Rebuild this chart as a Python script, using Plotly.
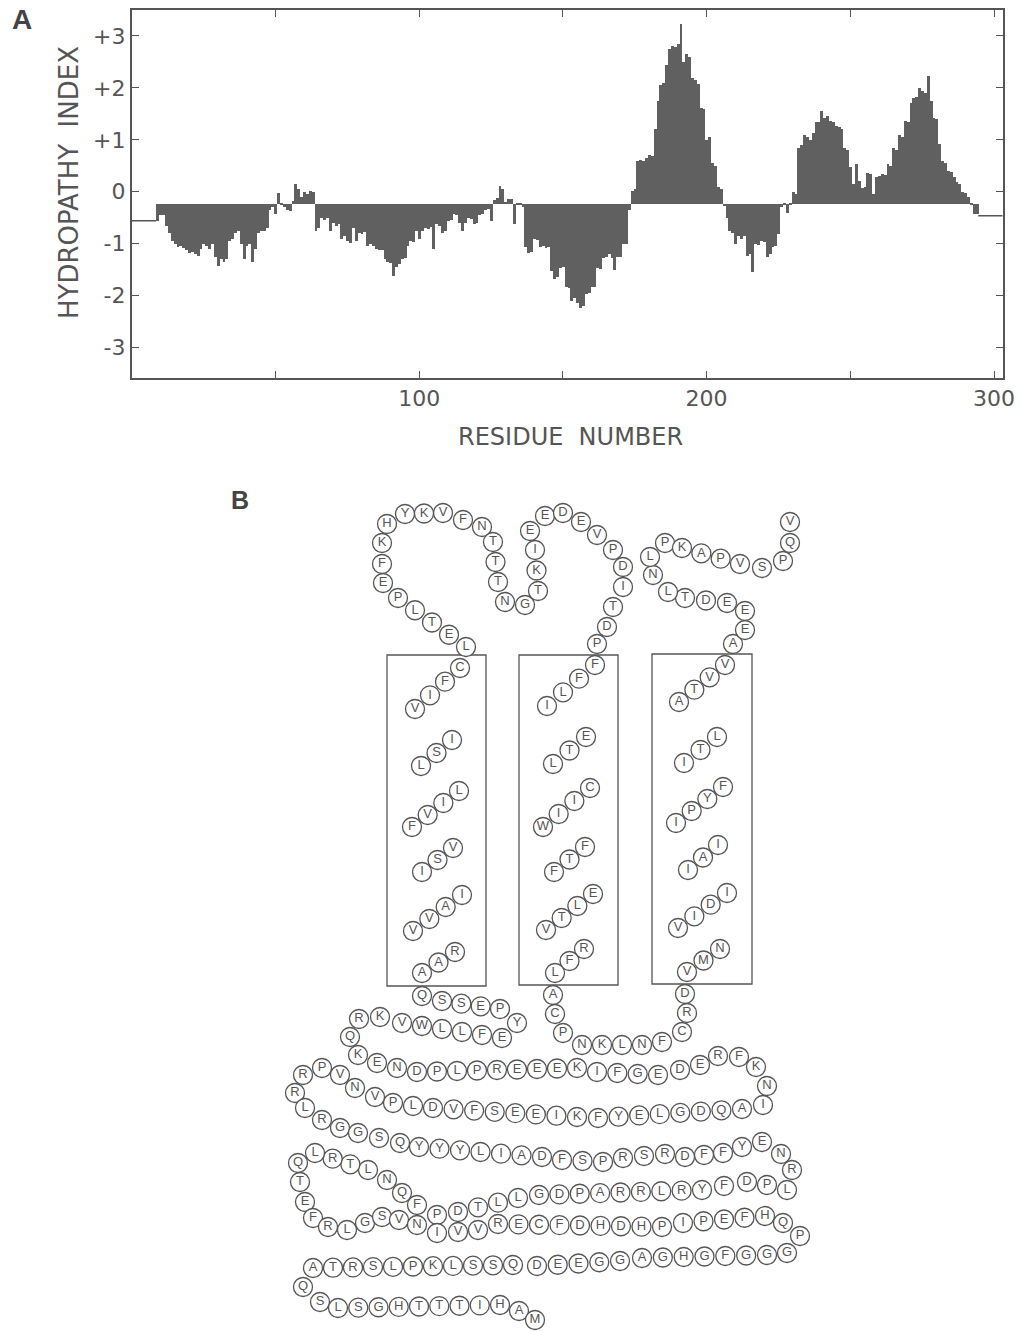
import plotly.graph_objects as go

W, H = 1021, 1332

# ---------------- Panel A data: hydropathy profile ----------------
first_residue = 9
hydropathy = [
    -0.56,
    -0.45, -0.45, -0.65, -0.80, -0.95, -1.00, -1.07, -1.05, -1.08, -1.12,
    -1.18, -1.15, -1.20, -1.23, -1.10, -1.00, -1.05, -1.10, -1.00, -1.25,
    -1.43, -1.30, -1.35, -1.30, -0.95, -0.90, -0.80, -0.75, -1.00, -1.30,
    -1.05, -1.00, -1.36, -1.10, -0.80, -0.75, -0.75, -0.70, -0.35, -0.30,
    -0.43, -0.03, -0.25, -0.30, -0.35, -0.37, -0.17, 0.15, 0.05, -0.10,
    0.00, -0.05, 0.02, 0.00, -0.75, -0.70, -0.50, -0.55, -0.50, -0.75,
    -0.60, -0.65, -0.62, -0.90, -0.85, -0.95, -0.98, -0.70, -0.94, -0.80,
    -0.82, -0.78, -1.04, -1.00, -1.05, -1.10, -1.13, -1.12, -1.30, -1.35,
    -1.38, -1.62, -1.45, -1.40, -1.30, -1.28, -1.05, -0.95, -0.97, -0.75,
    -0.90, -0.75, -0.70, -0.72, -0.68, -1.10, -0.62, -0.65, -0.80, -0.75,
    -0.56, -0.55, -0.43, -0.45, -0.60, -0.75, -0.60, -0.50, -0.52, -0.62,
    -0.60, -0.45, -0.42, -0.35, -0.33, -0.56, -0.15, -0.12, 0.12, 0.05,
    -0.20, -0.13, -0.13, -0.62, -0.25, -0.25, -0.30, -1.07, -1.17, -1.15,
    -0.90, -0.92, -1.07, -1.05, -1.08, -1.07, -1.52, -1.68, -1.65, -1.46,
    -1.45, -1.84, -1.86, -2.10, -2.05, -2.15, -2.23, -2.20, -1.97, -1.95,
    -1.84, -1.84, -1.46, -1.48, -1.27, -1.25, -1.20, -1.28, -1.50, -1.26,
    -1.25, -1.00, -1.00, -0.35, 0.02, 0.05, 0.60, 0.62, 0.60, 0.65,
    0.70, 0.68, 1.20, 1.75, 2.05, 2.10, 2.45, 2.75, 2.80, 2.78,
    2.85, 3.23, 2.50, 2.65, 2.60, 2.20, 2.15, 2.07, 1.62, 1.60,
    1.00, 1.05, 0.55, 0.50, 0.10, 0.05, -0.27, -0.50, -0.75, -0.80,
    -1.00, -0.85, -0.90, -0.85, -1.23, -1.20, -1.55, -1.00, -1.02, -0.95,
    -0.97, -1.26, -1.20, -1.07, -1.05, -0.82, -0.30, -0.25, -0.40, -0.25,
    0.00, -0.05, 0.85, 0.90, 1.10, 1.05, 1.00, 1.14, 1.35, 1.35,
    1.55, 1.42, 1.45, 1.37, 1.35, 1.27, 1.25, 1.20, 0.85, 0.80,
    0.47, 0.15, 0.53, 0.20, 0.08, 0.10, 0.37, 0.35, -0.05, 0.28,
    0.30, 0.34, 0.32, 0.53, 0.50, 0.85, 0.80, 1.10, 1.05, 1.37,
    1.35, 1.70, 1.80, 1.82, 2.00, 1.95, 1.90, 2.23, 1.75, 1.43,
    1.40, 0.92, 0.60, 0.55, 0.40, 0.38, 0.28, 0.18, 0.15, 0.00,
    -0.02, -0.10, -0.25, -0.43, -0.43,
]
residues = list(range(first_residue, first_residue + len(hydropathy)))
baseline = -0.23
lead_x, lead_y = [0, 8.5], [-0.56, -0.56]
tail_x, tail_y = [294.5, 303], [-0.46, -0.46]
y_tickvals = [3, 2, 1, 0, -1, -2, -3]
y_ticktext = ["+3", "+2", "+1", "0", "-1", "-2", "-3"]
x_tickvals = [50, 100, 150, 200, 250, 300]
x_ticktext = ["", "100", "", "200", "", "300"]

# ---------------- Panel B data: topology (letters + layout anchors) ----------------
segments = [
    # helix 1
    ("CFIV", (460, 668), (415, 709)), ("ISL", (452, 740), (421, 766)),
    ("LIVF", (459, 791), (412, 827)), ("VSI", (453, 848), (422, 872)),
    ("IAVV", (462, 895), (413, 931)), ("RAA", (455, 952), (422, 973)),
    # helix 2
    ("FFLI", (595, 665), (547, 706)), ("ETL", (586, 737), (553, 764)),
    ("CIIW", (590, 788), (543, 827)), ("FTF", (585, 847), (554, 872)),
    ("ELTV", (593, 894), (546, 930)), ("RFL", (584, 949), (555, 973)),
    # helix 3
    ("VVTA", (725, 665), (679, 702)), ("LTI", (717, 737), (684, 763)),
    ("FYPI", (723, 787), (676, 823)), ("IAI", (718, 845), (688, 870)),
    ("IDIV", (727, 893), (678, 928)), ("NMV", (720, 949), (687, 972)),
    # top-left loops
    ("LETLP", (466, 647), (398, 598)), ("E", (383, 583), (383, 583)),
    ("FK", (382, 564), (382, 543)), ("H", (387, 524), (387, 524)),
    ("YKV", (405, 514), (443, 513)), ("FN", (463, 520), (482, 527)),
    ("TTT", (493, 542), (498, 582)), ("NG", (505, 602), (525, 605)),
    ("TKI", (538, 591), (535, 550)), ("E", (530, 531), (530, 531)),
    ("ED", (545, 516), (563, 513)), ("EV", (581, 522), (597, 535)),
    ("PD", (613, 550), (623, 567)), ("IT", (623, 587), (613, 607)),
    ("DP", (607, 627), (597, 644)),
    # top-right tail
    ("A", (733, 644), (733, 644)), ("EE", (745, 630), (745, 611)),
    ("EDT", (727, 603), (685, 598)), ("L", (668, 592), (668, 592)),
    ("NL", (653, 575), (650, 557)), ("P", (665, 543), (665, 543)),
    ("KAPV", (682, 548), (740, 564)), ("SP", (762, 568), (783, 561)),
    ("QV", (790, 543), (790, 522)),
    # loop between helix 2 and 3
    ("AC", (553, 995), (555, 1014)), ("P", (563, 1033), (563, 1033)),
    ("NKLN", (582, 1045), (642, 1045)), ("F", (662, 1042), (662, 1042)),
    ("C", (682, 1032), (682, 1032)), ("RD", (687, 1013), (685, 994)),
    # cytoplasmic domain
    ("Q", (422, 996), (422, 996)), ("SSEP", (442, 1001), (500, 1009)),
    ("Y", (517, 1023), (517, 1023)), ("EFLLWV", (502, 1038), (402, 1023)),
    ("K", (380, 1017), (380, 1017)), ("R", (359, 1019), (359, 1019)),
    ("Q", (350, 1037), (350, 1037)), ("K", (358, 1055), (358, 1055)),
    ("EN", (377, 1063), (397, 1068)), ("DPLPREEEK", (417, 1072), (577, 1068)),
    ("IFGE", (597, 1072), (658, 1075)), ("DE", (680, 1070), (700, 1065)),
    ("RF", (718, 1056), (739, 1057)), ("K", (756, 1067), (756, 1067)),
    ("N", (767, 1086), (767, 1086)), ("I", (763, 1105), (763, 1105)),
    ("AQDGLEYF", (742, 1109), (598, 1118)), ("KIEESFVD", (577, 1117), (433, 1108)),
    ("LP", (413, 1106), (393, 1103)), ("VN", (375, 1097), (355, 1088)),
    ("V", (340, 1075), (340, 1075)), ("P", (322, 1068), (322, 1068)),
    ("R", (303, 1075), (303, 1075)), ("R", (295, 1093), (295, 1093)),
    ("L", (305, 1108), (305, 1108)), ("RG", (322, 1120), (340, 1128)),
    ("GSQ", (358, 1133), (400, 1143)), ("YYYLIAD", (419, 1147), (542, 1157)),
    ("FSP", (562, 1160), (603, 1162)), ("RSR", (623, 1158), (665, 1154)),
    ("DFF", (685, 1157), (723, 1153)), ("YE", (742, 1147), (762, 1142)),
    ("N", (781, 1154), (781, 1154)), ("R", (792, 1170), (792, 1170)),
    ("L", (787, 1190), (787, 1190)), ("PD", (767, 1185), (747, 1182)),
    ("F", (724, 1186), (724, 1186)), ("YRLRRAPDG", (702, 1190), (539, 1195)),
    ("LLTD", (518, 1198), (458, 1212)), ("P", (437, 1215), (437, 1215)),
    ("F", (417, 1205), (417, 1205)), ("Q", (402, 1193), (402, 1193)),
    ("N", (387, 1180), (387, 1180)), ("LTRL", (368, 1170), (315, 1153)),
    ("Q", (298, 1163), (298, 1163)), ("T", (300, 1182), (300, 1182)),
    ("E", (305, 1202), (305, 1202)), ("F", (313, 1218), (313, 1218)),
    ("RL", (328, 1227), (347, 1230)), ("G", (365, 1223), (365, 1223)),
    ("S", (382, 1217), (382, 1217)), ("V", (399, 1220), (399, 1220)),
    ("NI", (417, 1225), (437, 1233)), ("VV", (458, 1232), (478, 1230)),
    ("RECFDHDHP", (498, 1224), (662, 1227)), ("IPEFH", (683, 1223), (765, 1216)),
    ("Q", (783, 1223), (783, 1223)), ("P", (800, 1236), (800, 1236)),
    ("G", (787, 1253), (787, 1253)), ("GGFGHGA", (767, 1255), (642, 1258)),
    ("GGEED", (620, 1261), (537, 1266)), ("QSSLKPLSRTA", (513, 1265), (313, 1268)),
    ("Q", (303, 1287), (303, 1287)), ("S", (320, 1302), (320, 1302)),
    ("LSGHTTTIH", (338, 1308), (500, 1305)), ("A", (519, 1311), (519, 1311)),
    ("M", (535, 1320), (535, 1320)),
]
membrane_boxes = [(387, 655, 486, 986), (519, 655, 618, 985), (652, 654, 752, 984)]

# ---------------- build figure ----------------
ink = "#555555"
label_font = "DejaVu Sans, Liberation Sans, sans-serif"
bead_font = "Liberation Sans, Arial, sans-serif"

fig = go.Figure()

fig.add_trace(go.Bar(
    x=residues, y=[v - baseline for v in hydropathy], base=baseline,
    width=1.0, marker=dict(color="#606060", line=dict(width=0)),
    xaxis="x", yaxis="y", showlegend=False, hoverinfo="skip"))
for lx, ly in ((lead_x, lead_y), (tail_x, tail_y)):
    fig.add_trace(go.Scatter(x=lx, y=ly, mode="lines",
                             line=dict(color=ink, width=1.5),
                             xaxis="x", yaxis="y", showlegend=False, hoverinfo="skip"))

bx, by, bt = [], [], []
for letters, (x0, y0), (x1, y1) in segments:
    n = len(letters)
    for i, ch in enumerate(letters):
        t = i / (n - 1) if n > 1 else 0.0
        bx.append(x0 + (x1 - x0) * t)
        by.append(y0 + (y1 - y0) * t)
        bt.append(ch)

fig.add_trace(go.Scatter(
    x=bx, y=by, text=bt, mode="markers+text", textposition="middle center",
    marker=dict(size=19, color="white", line=dict(color=ink, width=1.3)),
    textfont=dict(size=13, color=ink, family=bead_font),
    xaxis="x2", yaxis="y2", showlegend=False, hoverinfo="skip"))

shapes = []
for (x0, y0, x1, y1) in membrane_boxes:
    shapes.append(dict(type="rect", xref="x2", yref="y2", x0=x0, y0=y0, x1=x1, y1=y1,
                       line=dict(color=ink, width=1.3), layer="below"))

axis_common = dict(showgrid=False, zeroline=False, showline=True, linecolor=ink,
                   linewidth=1.6, mirror="ticks", ticks="inside", ticklen=7,
                   tickwidth=1.4, tickcolor=ink, automargin=False,
                   tickfont=dict(size=22, color=ink, family=label_font))


def label(text, px, py, size, family=label_font, angle=0, color=ink):
    return dict(text=text, x=px / W, y=1 - py / H, xref="paper", yref="paper",
                xanchor="center", yanchor="middle", showarrow=False, textangle=angle,
                font=dict(size=size, color=color, family=family))


fig.update_layout(
    width=W, height=H, margin=dict(l=0, r=0, t=0, b=0, pad=0, autoexpand=False),
    paper_bgcolor="white", plot_bgcolor="rgba(0,0,0,0)", bargap=0,
    font=dict(family=label_font, color=ink),
    xaxis=dict(domain=[131.7 / W, 1002.7 / W], range=[0, 303],
               tickvals=x_tickvals, ticktext=x_ticktext, anchor="y", **axis_common),
    yaxis=dict(domain=[1 - 377.7 / H, 1 - 10 / H], range=[-3.58, 3.5],
               tickvals=y_tickvals, ticktext=y_ticktext, anchor="x", **axis_common),
    xaxis2=dict(domain=[0, 1], range=[0, W], visible=False, anchor="y2", automargin=False),
    yaxis2=dict(domain=[0, 1], range=[H, 0], visible=False, anchor="x2", automargin=False),
    shapes=shapes,
    annotations=[
        label("<b>A</b>", 22, 19, 28, family=bead_font, color="#444"),
        label("<b>B</b>", 240, 500, 25, family=bead_font, color="#444"),
        label("HYDROPATHY  INDEX", 69, 183, 26, angle=-90),
        label("RESIDUE  NUMBER", 570, 437, 24),
    ],
)

fig.write_html("out.html",
               config={"displayModeBar": False},
               post_script="document.body.style.margin='0px';"
                           "document.documentElement.style.overflow='hidden';")
